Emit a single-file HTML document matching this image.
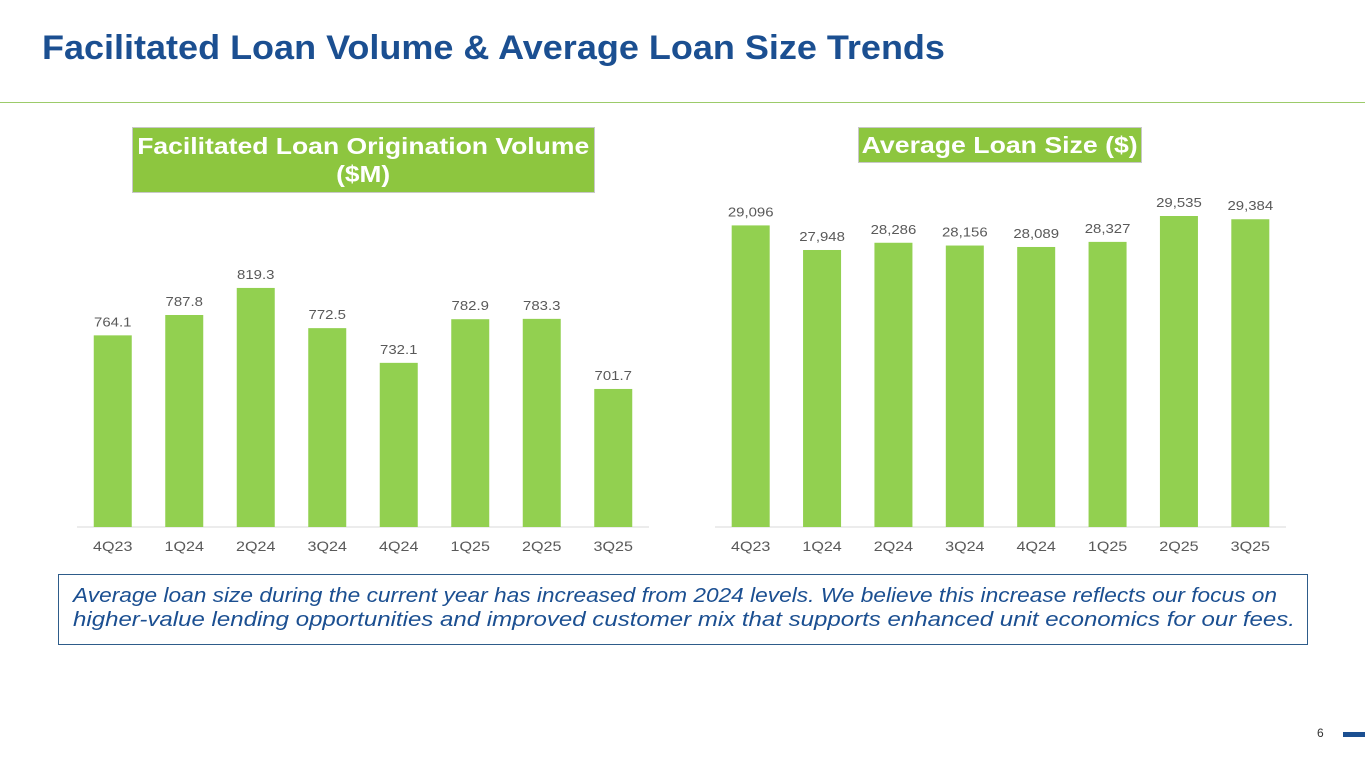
<!DOCTYPE html>
<html><head><meta charset="utf-8"><style>
body{margin:0;width:1365px;height:768px;background:#fff;font-family:"Liberation Sans",sans-serif;position:relative;overflow:hidden}
.abs{position:absolute}
.fit{display:inline-block;white-space:nowrap;transform-origin:0 0}
</style></head><body>
<div class="abs" style="left:42px;top:29px;font-size:34px;font-weight:bold;color:#1B4F91;white-space:nowrap"><span class="fit" data-w="903">Facilitated Loan Volume &amp; Average Loan Size Trends</span></div>
<div class="abs" style="left:0;top:102px;width:1365px;height:1px;background:#9CCB6A"></div>
<div class="abs" style="left:132px;top:127px;width:463px;height:66px;background:#8DC63F;border:1px solid #c8c8c8;color:#fff;font-weight:bold;font-size:23.5px;text-align:center;line-height:28px;padding-top:4px;box-sizing:border-box"><span class="fit c" data-w="452">Facilitated Loan Origination Volume</span><br><span class="fit c" data-w="54">($M)</span></div>
<div class="abs" style="left:858px;top:127px;width:284px;height:36px;background:#8DC63F;border:1px solid #c8c8c8;color:#fff;font-weight:bold;font-size:23.5px;text-align:center;line-height:34px;box-sizing:border-box"><span class="fit c" data-w="276">Average Loan Size ($)</span></div>
<svg class="abs" style="left:0;top:0" width="1365" height="768" id="charts"></svg>
<div class="abs" style="left:58px;top:574px;width:1250px;height:71px;border:1.5px solid #2E5C8A;box-sizing:border-box;padding:9px 0 0 14px;font-style:italic;font-size:20.5px;line-height:24px;color:#1B4F91"><span class="fit" data-w="1204">Average loan size during the current year has increased from 2024 levels. We believe this increase reflects our focus on</span><br><span class="fit" data-w="1222">higher-value lending opportunities and improved customer mix that supports enhanced unit economics for our fees.</span></div>
<div class="abs" style="left:1317px;top:726px;font-size:12px;color:#333">6</div>
<div class="abs" style="left:1343px;top:732px;width:22px;height:5px;background:#1B4F91"></div>
<script>
const categories=["4Q23","1Q24","2Q24","3Q24","4Q24","1Q25","2Q25","3Q25"];
const volumeValues=[764.1,787.8,819.3,772.5,732.1,782.9,783.3,701.7];
const volumeLabels=["764.1","787.8","819.3","772.5","732.1","782.9","783.3","701.7"];
const sizeValues=[29096,27948,28286,28156,28089,28327,29535,29384];
const sizeLabels=["29,096","27,948","28,286","28,156","28,089","28,327","29,535","29,384"];
const svg=document.getElementById('charts');
const NS='http://www.w3.org/2000/svg';
function mk(t,a){const e=document.createElementNS(NS,t);for(const k in a)e.setAttribute(k,a[k]);svg.appendChild(e);return e;}
function widen(t,k){const w=t.getComputedTextLength();t.setAttribute('textLength',(w*k).toFixed(1));t.setAttribute('lengthAdjust','spacingAndGlyphs');}
function draw(prefix,x0,x1,vals,labels,vmin,pxPer){
  const base=527,step=(x1-x0)/vals.length,bw=38;
  const ax=mk('line',{x1:x0,x2:x1,y1:base,y2:base,stroke:'#d9d9d9','stroke-width':1});
  
  
  vals.forEach((v,i)=>{
    const cx=x0+step*(i+0.5),y=base-(v-vmin)*pxPer;
    const r=mk('rect',{x:cx-bw/2,y:y,width:bw,height:base-y,fill:'#92D050'});
    
    
    const t=mk('text',{x:cx,y:y-9,'text-anchor':'middle','font-size':13,fill:'#595959'});
    t.textContent=labels[i];
    
    
    widen(t,1.15);
    const c=mk('text',{x:cx,y:551,'text-anchor':'middle','font-size':14,fill:'#595959'});
    c.textContent=categories[i];
    
    
    widen(c,1.15);
  });
}
draw('volume',77,649,volumeValues,volumeLabels,541,0.859);
draw('size',715,1286,sizeValues,sizeLabels,15016,0.02142);
document.querySelectorAll('.fit').forEach(s=>{
  const w=s.getBoundingClientRect().width,tw=+s.dataset.w,k=tw/w;
  if(s.classList.contains('c')){s.style.transformOrigin='50% 0';}
  s.style.transform='scaleX('+k.toFixed(4)+')';
});
</script>
</body></html>
